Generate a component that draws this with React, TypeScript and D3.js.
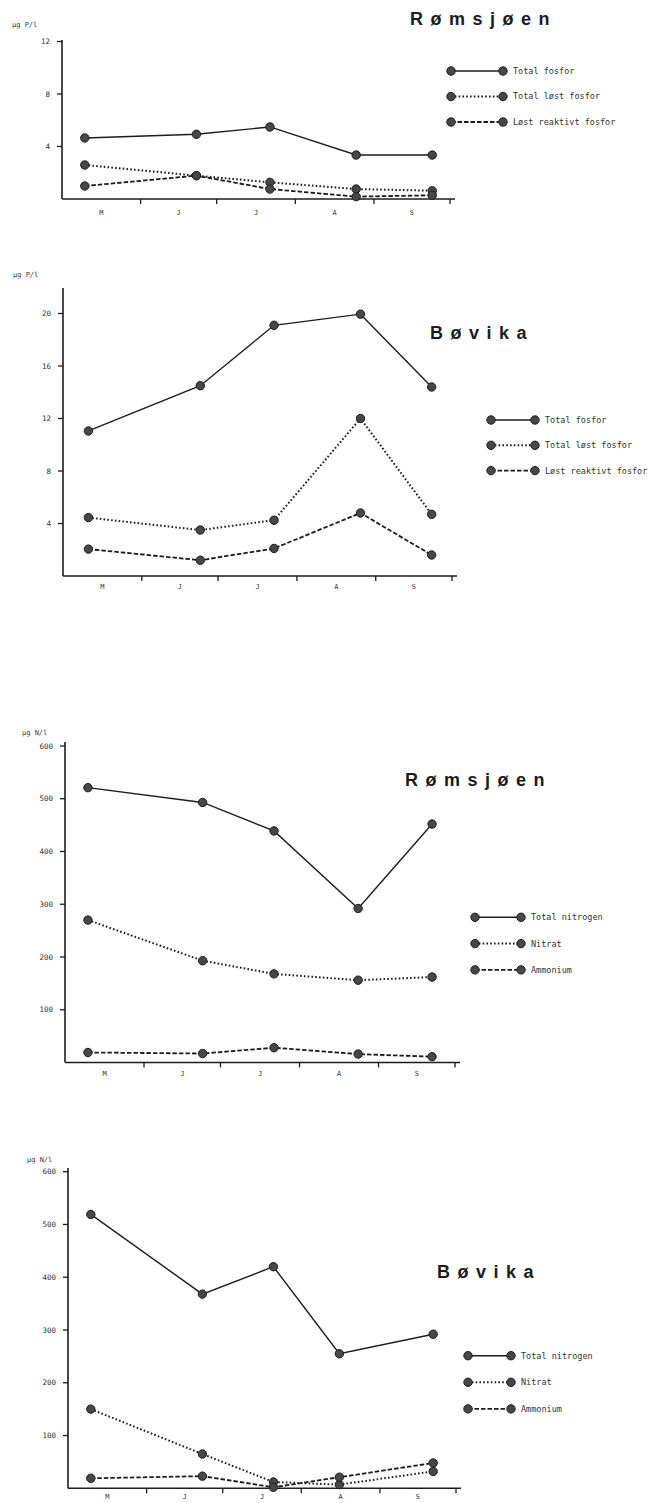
import React, { useEffect } from "react";
import * as d3 from "d3";

// months on the x axis (May - September)
const months = ["M", "J", "J", "A", "S"];
const season = ["1985-05-01", "1985-10-01"];

// Rømsjøen, fosfor (µg P/l)
const romPDates = ["1985-05-10", "1985-06-23", "1985-07-22", "1985-08-25", "1985-09-24"];
const romTotP = [4.65, 4.93, 5.49, 3.35, 3.35];
const romTotDissP = [2.59, 1.78, 1.27, 0.76, 0.63];
const romReactP = [0.99, 1.78, 0.76, 0.18, 0.28];

// Bøvika, fosfor (µg P/l)
const bovPDates = ["1985-05-11", "1985-06-24", "1985-07-23", "1985-08-26", "1985-09-23"];
const bovTotP = [11.05, 14.5, 19.1, 19.95, 14.4];
const bovTotDissP = [4.45, 3.5, 4.25, 12.0, 4.7];
const bovReactP = [2.05, 1.2, 2.1, 4.8, 1.6];

// Rømsjøen, nitrogen (µg N/l)
const romNDates = ["1985-05-10", "1985-06-24", "1985-07-22", "1985-08-24", "1985-09-22"];
const romTotN = [521, 493, 439, 292, 452];
const romNitrat = [270, 193, 168, 156, 162];
const romAmmonium = [19, 17, 28, 16, 11];

// Bøvika, nitrogen (µg N/l)
const bovNDates = ["1985-05-10", "1985-06-23", "1985-07-21", "1985-08-16", "1985-09-22"];
const bovTotN = [519, 368, 420, 255, 292];
const bovNitrat = [150, 65, 12, 7, 32];
const bovAmmonium = [19, 23, 2, 21, 48];

const pLabels = ["Total fosfor", "Total løst fosfor", "Løst reaktivt fosfor"];
const nLabels = ["Total nitrogen", "Nitrat", "Ammonium"];
const pTicksR = [4, 8, 12];
const pTicksB = [4, 8, 12, 16, 20];
const nTicks = [100, 200, 300, 400, 500, 600];

const styles = [
  { w: 1.4, dash: "none" },
  { w: 2, dash: "1.6 2.2" },
  { w: 1.8, dash: "4.5 2" },
];

const INK = "#1c1c1c";
const small = "'DejaVu Sans Mono', monospace";

// layout of each panel (pixels)
const panels = [
  {
    title: "Rømsjøen", unit: "µg P/l", dates: romPDates, series: [romTotP, romTotDissP, romReactP],
    labels: pLabels, ticks: pTicksR, yMax: 12,
    x0: 62, x1: 450, y0: 199, yTop: 41.5, axisTop: 40, monthDy: 16,
    titleX: 410, titleY: 25, legX: 451, legLen: 52, legY: 71, legGap: 25.5, unitX: 12, unitY: 27,
  },
  {
    title: "Bøvika", unit: "µg P/l", dates: bovPDates, series: [bovTotP, bovTotDissP, bovReactP],
    labels: pLabels, ticks: pTicksB, yMax: 20,
    x0: 63, x1: 452, y0: 576, yTop: 313.5, axisTop: 288, monthDy: 13,
    titleX: 430, titleY: 339, legX: 491, legLen: 44, legY: 420, legGap: 25.3, unitX: 13, unitY: 277,
  },
  {
    title: "Rømsjøen", unit: "µg N/l", dates: romNDates, series: [romTotN, romNitrat, romAmmonium],
    labels: nLabels, ticks: nTicks, yMax: 600,
    x0: 65, x1: 455, y0: 1062.5, yTop: 746, axisTop: 742, monthDy: 13,
    titleX: 405, titleY: 786, legX: 475, legLen: 46, legY: 917.3, legGap: 26.3, unitX: 22, unitY: 735,
  },
  {
    title: "Bøvika", unit: "µg N/l", dates: bovNDates, series: [bovTotN, bovNitrat, bovAmmonium],
    labels: nLabels, ticks: nTicks, yMax: 600,
    x0: 68, x1: 456, y0: 1488.3, yTop: 1171.7, axisTop: 1168, monthDy: 10.5,
    titleX: 437, titleY: 1278, legX: 468, legLen: 43, legY: 1355.7, legGap: 26.6, unitX: 27, unitY: 1162,
  },
];

const parse = d3.timeParse("%Y-%m-%d");

function Marker({ cx, cy }: { cx: number; cy: number }) {
  return <circle cx={cx} cy={cy} r={4.2} fill="#474747" stroke={INK} strokeWidth={1} />;
}

function Panel({ p }: { p: any }) {
  const [start, end] = season.map((s) => parse(s)!);
  const x = d3.scaleTime().domain([start, end]).range([p.x0, p.x1]);
  const y = d3.scaleLinear().domain([0, p.yMax]).range([p.y0, p.yTop]);
  const dates = p.dates.map((d: string) => parse(d)!);
  const monthStarts = d3.timeMonth.range(start, d3.timeDay.offset(end, 1));
  const line = d3
    .line<[Date, number]>()
    .x((d) => x(d[0]))
    .y((d) => y(d[1]));

  return (
    <g>
      {/* axes */}
      <line x1={p.x0} x2={p.x0} y1={p.axisTop} y2={p.y0} stroke={INK} strokeWidth={1.6} />
      <line x1={p.x0} x2={p.x1 + 5} y1={p.y0} y2={p.y0} stroke={INK} strokeWidth={1.6} />
      {p.ticks.map((t: number) => (
        <g key={t}>
          <line x1={p.x0 - 5} x2={p.x0} y1={y(t)} y2={y(t)} stroke={INK} strokeWidth={1.3} />
          <text x={p.x0 - 12} y={y(t)} dy="0.35em" textAnchor="end" fontFamily={small} fontSize={7.5} fill="#333">
            {t}
          </text>
        </g>
      ))}
      {monthStarts.slice(1).map((m, i) => (
        <line key={i} x1={x(m)} x2={x(m)} y1={p.y0} y2={p.y0 + 5} stroke={INK} strokeWidth={1.3} />
      ))}
      {months.map((m, i) => {
        const mid = new Date((monthStarts[i].getTime() + monthStarts[i + 1].getTime()) / 2);
        return (
          <text key={i} x={x(mid)} y={p.y0 + p.monthDy} textAnchor="middle" fontFamily={small} fontSize={7} fill="#333">
            {m}
          </text>
        );
      })}
      <text x={p.unitX} y={p.unitY} fontFamily={small} fontSize={7} fill="#333">
        {p.unit}
      </text>

      {/* series */}
      {p.series.map((vals: number[], si: number) => (
        <path
          key={si}
          d={line(dates.map((d: Date, i: number) => [d, vals[i]]))!}
          fill="none"
          stroke={INK}
          strokeWidth={styles[si].w}
          strokeDasharray={styles[si].dash}
        />
      ))}
      {p.series.map((vals: number[], si: number) =>
        vals.map((v, i) => <Marker key={si + "-" + i} cx={x(dates[i])} cy={y(v)} />)
      )}

      {/* title */}
      <text
        x={p.titleX}
        y={p.titleY}
        fontFamily="'Liberation Sans', Arial, sans-serif"
        fontWeight="bold"
        fontSize={18}
        letterSpacing={7.5}
        fill={INK}
      >
        {p.title}
      </text>

      {/* legend */}
      {p.labels.map((lab: string, i: number) => {
        const ly = p.legY + i * p.legGap;
        return (
          <g key={lab}>
            <line
              x1={p.legX}
              x2={p.legX + p.legLen}
              y1={ly}
              y2={ly}
              stroke={INK}
              strokeWidth={styles[i].w}
              strokeDasharray={styles[i].dash}
            />
            <Marker cx={p.legX} cy={ly} />
            <Marker cx={p.legX + p.legLen} cy={ly} />
            <text x={p.legX + p.legLen + 10} y={ly} dy="0.35em" fontFamily={small} fontSize={8.5} fill="#333">
              {lab}
            </text>
          </g>
        );
      })}
    </g>
  );
}

export default function App() {
  useEffect(() => {
    document.body.style.margin = "0";
  }, []);
  return (
    <svg
      width={657}
      height={1503}
      style={{ position: "absolute", left: 0, top: 0, background: "#fff" }}
    >
      <rect width={657} height={1503} fill="#fff" />
      {panels.map((p, i) => (
        <Panel key={i} p={p} />
      ))}
    </svg>
  );
}
